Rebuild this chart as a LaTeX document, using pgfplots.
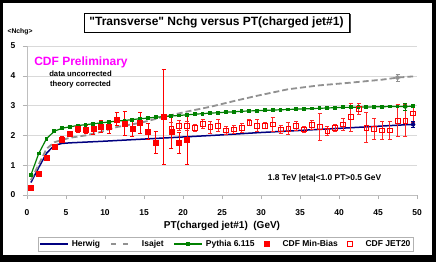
\documentclass[border=0pt]{standalone}
\usepackage{fontspec}
\setmainfont{Liberation Sans}[Ligatures=TeXOff]
\usepackage{pgfplots}
\pgfplotsset{compat=1.18}
\usepackage{pgfplotstable}
\usetikzlibrary{shadows}

\definecolor{herwig}{RGB}{0,0,128}
\definecolor{isajet}{RGB}{145,145,145}
\definecolor{pythia}{RGB}{0,128,0}
\definecolor{cdfred}{RGB}{255,0,0}
\definecolor{mag}{RGB}{255,0,255}

\pgfplotstableread{
x y
0.5 0.42
1.5 0.92
2.5 1.40
3.5 1.67
4.5 1.73
5.5 1.75
9.5 1.80
14.5 1.87
19.5 1.94
24.5 2.01
29.5 2.09
34.5 2.16
39.5 2.23
44.5 2.30
49.5 2.37
}\herwigdata

\pgfplotstableread{
x y
0.5 0.50
1.5 1.02
2.5 1.55
3.5 1.77
4.5 1.85
5.5 1.92
7.5 2.00
9.5 2.12
11.5 2.28
14.5 2.42
17.5 2.62
20.5 2.80
23.5 2.96
26.5 3.15
29.5 3.33
33.5 3.55
37.5 3.68
41.5 3.77
45.5 3.87
47.5 3.94
49.5 3.98
}\isajetdata

\pgfplotstableread{
x y
0.5 0.67
1.5 1.39
2.5 1.89
3.5 2.14
4.5 2.24
5.5 2.29
6.5 2.33
7.5 2.36
8.5 2.39
9.5 2.42
10.5 2.45
11.5 2.48
12.5 2.50
13.5 2.53
14.5 2.56
15.5 2.58
16.5 2.61
17.5 2.63
18.5 2.65
19.5 2.67
20.5 2.69
21.5 2.71
22.5 2.73
23.5 2.75
24.5 2.76
25.5 2.78
26.5 2.79
27.5 2.81
28.5 2.82
29.5 2.83
30.5 2.84
31.5 2.85
32.5 2.86
33.5 2.87
34.5 2.88
35.5 2.89
36.5 2.90
37.5 2.91
38.5 2.92
39.5 2.93
40.5 2.94
41.5 2.94
42.5 2.95
43.5 2.95
44.5 2.96
45.5 2.96
46.5 2.97
47.5 2.97
48.5 2.97
49.5 2.98
}\pythiadata

\pgfplotstableread{
x y e
0.5 0.26 0.02
1.5 0.72 0.03
2.5 1.25 0.04
3.5 1.62 0.06
4.5 1.87 0.08
5.5 2.05 0.10
6.5 2.21 0.12
7.5 2.20 0.14
8.5 2.21 0.17
9.5 2.29 0.20
10.5 2.28 0.20
11.5 2.54 0.22
12.5 2.39 0.40
13.5 2.22 0.24
14.5 2.43 0.35
15.5 2.14 0.27
16.5 1.76 0.37
17.5 2.63 1.60
18.5 2.13 0.55
19.5 1.74 0.35
20.5 1.86 0.82
}\minbias

\pgfplotstableread{
x y e
18.5 2.22 0.20
19.5 2.33 0.17
20.5 2.31 0.15
21.5 2.26 0.12
22.5 2.38 0.15
23.5 2.28 0.20
24.5 2.33 0.20
25.5 2.17 0.12
26.5 2.20 0.12
27.5 2.26 0.15
28.5 2.43 0.10
29.5 2.33 0.20
30.5 2.32 0.10
31.5 2.37 0.25
32.5 2.20 0.12
33.5 2.23 0.20
34.5 2.33 0.15
35.5 2.20 0.10
36.5 2.36 0.15
37.5 2.28 0.45
38.5 2.14 0.15
39.5 2.24 0.12
40.5 2.37 0.20
41.5 2.61 0.47
42.5 2.89 0.20
43.5 2.26 0.50
44.5 2.22 0.35
45.5 2.17 0.30
46.5 2.17 0.30
47.5 2.50 0.53
48.5 2.50 0.53
49.5 2.74 0.30
}\jettwenty

\begin{document}
\begin{tikzpicture}
\useasboundingbox (0,0) rectangle (436pt,262pt);
\fill[white] (0,0) rectangle (436pt,262pt);
\begin{axis}[
  at={(27pt,67pt)}, anchor=south west,
  scale only axis, width=390pt, height=149pt,
  xmin=0, xmax=50, ymin=0, ymax=5,
  xtick={0,5,...,50}, ytick={0,1,2,3,4,5},
  axis x line*=bottom, axis y line*=left,
  axis line style={draw=gray!50, line width=0.6pt, -},
  ymajorgrids, grid style={gray!30, line width=0.6pt},
  tick align=outside, major tick length=4pt,
  tick style={gray!60, line width=0.6pt},
  /pgf/number format/assume math mode=true,
  ticklabel style={font=\fontsize{8.5}{10}\selectfont\bfseries},
  xticklabel style={yshift=-7pt},
  yticklabel style={xshift=-4pt},
  xlabel={PT(charged jet\#1)\ \ (GeV)},
  xlabel style={at={(axis description cs:0.5,-0.208)}, anchor=center, font=\fontsize{10}{12}\selectfont\bfseries},
  clip=false,
  legend columns=5,
  legend style={at={(axis description cs:0.51,-0.282)}, anchor=north,
    draw=gray!60, line width=0.5pt, inner sep=1pt,
    font=\fontsize{8.5}{10}\selectfont\bfseries,
    /tikz/every even column/.append style={column sep=8pt},
    /tikz/every odd column/.append style={column sep=1pt}},
  error bars/error bar style={line width=0.8pt},
  error bars/error mark options={rotate=90, mark size=2pt, line width=0.8pt},
]
\addplot[herwig, line width=1.5pt, no markers,
  legend image code/.code={\draw[herwig, line width=1.5pt] (0pt,0pt) -- (28pt,0pt);}]
  table[x=x,y=y] {\herwigdata};
\addlegendentry{Herwig}
\addplot[isajet, line width=1.8pt, dash pattern=on 6pt off 3pt, no markers,
  legend image code/.code={\draw[isajet, line width=1.8pt, dash pattern=on 5pt off 7pt] (3pt,0pt) -- (26pt,0pt);}]
  table[x=x,y=y] {\isajetdata};
\addlegendentry{\hspace{4pt}Isajet}
\addplot[pythia, line width=1.2pt, mark=square*, mark size=1.3pt,
  legend image code/.code={\draw[pythia, line width=1.2pt] (0pt,0pt) -- (28pt,0pt); \fill[pythia] (12.7pt,-1.3pt) rectangle (15.3pt,1.3pt);}]
  table[x=x,y=y] {\pythiadata};
\addlegendentry{Pythia 6.115}
\addplot[cdfred, only marks, mark=square*, mark size=2.5pt,
  error bars/.cd, y dir=both, y explicit,
  error bar style={cdfred}]
  table[x=x,y=y,y error=e] {\minbias};
\addlegendentry{\hspace{10pt}CDF Min-Bias}
\addplot[cdfred, only marks, mark=square, mark size=2.4pt, mark options={line width=0.8pt, fill=white},
  error bars/.cd, y dir=both, y explicit,
  error bar style={cdfred!85}]
  table[x=x,y=y,y error=e] {\jettwenty};
\addlegendentry{\hspace{10pt}CDF JET20}
% end-point error bars of the theory curves
\addplot[herwig, forget plot, only marks, mark=none,
  error bars/.cd, y dir=both, y explicit, error bar style={herwig}]
  coordinates {(49.5,2.37) +- (0,0.10)};
\addplot[pythia, forget plot, only marks, mark=none,
  error bars/.cd, y dir=both, y explicit, error bar style={pythia}]
  coordinates {(48.5,2.97) +- (0,0.12)};
\addplot[isajet, forget plot, only marks, mark=none,
  error bars/.cd, y dir=both, y explicit, error bar style={isajet}]
  coordinates {(47.5,3.94) +- (0,0.12)};
\end{axis}
% title box
\node[draw=black, fill=white, line width=0.6pt, minimum width=265pt, minimum height=19pt,
  inner sep=0pt, drop shadow={shadow xshift=1.5pt, shadow yshift=-1.5pt, fill=black!75, opacity=1},
  font=\fontsize{12}{14}\selectfont\bfseries] at (216.5pt,239.5pt)
  {"Transverse" Nchg versus PT(charged jet\#1)};
\node[font=\fontsize{6.8}{8}\selectfont\bfseries] at (20pt,230pt) {<Nchg>};
\node[text=mag, font=\fontsize{12}{14}\selectfont\bfseries] at (81pt,200pt) {CDF Preliminary};
\node[font=\fontsize{7.7}{9}\selectfont\bfseries] at (80.5pt,188.5pt) {data uncorrected};
\node[font=\fontsize{7.7}{9}\selectfont\bfseries] at (80.5pt,177.5pt) {theory corrected};
\node[font=\fontsize{8.4}{10}\selectfont\bfseries] at (324.5pt,84pt) {1.8 TeV |eta|<1.0 PT>0.5 GeV};
% outer frame
\fill[black] (0,0) rectangle (436pt,7pt);
\fill[black] (0,0) rectangle (3pt,262pt);
\fill[black] (0,259pt) rectangle (436pt,262pt);
\fill[black] (432pt,0) rectangle (436pt,262pt);
\end{tikzpicture}
\end{document}
